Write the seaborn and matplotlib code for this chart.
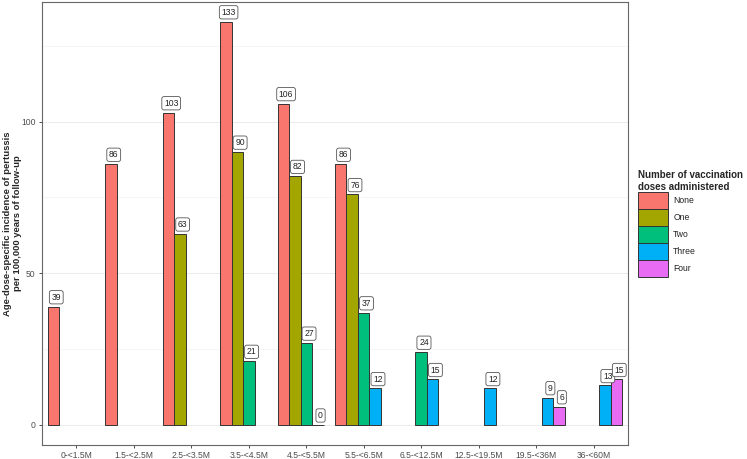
import numpy as np
import pandas as pd
import seaborn as sns
import matplotlib.pyplot as plt
from matplotlib.ticker import MultipleLocator

# data (NaN = no bar)
age_groups = ["0-<1.5M", "1.5-<2.5M", "2.5-<3.5M", "3.5-<4.5M", "4.5-<5.5M",
              "5.5-<6.5M", "6.5-<12.5M", "12.5-<19.5M", "19.5-<36M", "36-<60M"]
doses = ["None", "One", "Two", "Three", "Four"]
nan = np.nan
none_vals = [39, 86, 103, 133, 106, 86, nan, nan, nan, nan]
one_vals = [nan, nan, 63, 90, 82, 76, nan, nan, nan, nan]
two_vals = [nan, nan, nan, 21, 27, 37, 24, nan, nan, nan]
three_vals = [nan, nan, nan, nan, 0, 12, 15, 12, 9, 13]
four_vals = [nan, nan, nan, nan, nan, nan, nan, nan, 6, 15]
colors = ["#F8766D", "#A3A500", "#00BF7D", "#00B0F6", "#E76BF3"]

wide = pd.DataFrame({"age": age_groups, "None": none_vals, "One": one_vals,
                     "Two": two_vals, "Three": three_vals, "Four": four_vals})
df = wide.melt(id_vars="age", var_name="dose", value_name="rate").dropna()

sns.set_style("white")
plt.rcParams["font.family"] = ["Liberation Sans", "DejaVu Sans"]

fig = plt.figure(figsize=(7.47, 4.59), dpi=100)
ax = fig.add_axes([42 / 747, 14 / 459, 586 / 747, 443.5 / 459])

sns.barplot(data=df, x="age", y="rate", hue="dose", order=age_groups,
            hue_order=doses, palette=colors, width=1.0, edgecolor="#333333",
            linewidth=0.7, saturation=1, ax=ax)

# value labels in rounded boxes
for cont in ax.containers:
    for bar in cont:
        h = bar.get_height()
        if np.isnan(h):
            continue
        ax.annotate(f"{h:.0f}", (bar.get_x() + bar.get_width() / 2, h),
                    xytext=(2, 3.5), textcoords="offset points",
                    ha="center", va="bottom", fontsize=6.2, color="#222222",
                    bbox=dict(boxstyle="round,pad=0.25,rounding_size=0.25",
                              fc="white", ec="#555555", lw=0.6))

ax.set_xlim(-0.6, 9.6)
ax.set_ylim(-6.65, 139.65)
ax.yaxis.set_major_locator(MultipleLocator(50))
ax.yaxis.set_minor_locator(MultipleLocator(25))
ax.grid(axis="y", which="major", color="#EBEBEB", lw=0.7)
ax.grid(axis="y", which="minor", color="#F2F2F2", lw=0.5)
ax.set_axisbelow(True)
ax.tick_params(axis="both", which="major", labelsize=6.2, labelcolor="#4D4D4D",
               length=2.5, width=0.6, color="#333333", pad=2, bottom=True, left=True)
ax.tick_params(axis="y", which="minor", length=0)
for s in ax.spines.values():
    s.set_color("#666666")
    s.set_linewidth(0.8)

ax.set_xlabel("")
ax.set_ylabel("Age-dose-specific incidence of pertussis\nper 100,000 years of follow-up",
              fontsize=6.8, fontweight="bold", linespacing=1.1)
ax.yaxis.set_label_coords(-0.034, 0.5)

handles, labels = ax.get_legend_handles_labels()
leg = ax.legend(handles, labels, title="Number of vaccination\ndoses administered",
                loc="center left", bbox_to_anchor=(1.017, 0.5), frameon=False,
                fontsize=6.2, title_fontsize=7.0, handlelength=3.5, handleheight=2.66,
                labelspacing=0.0, handletextpad=0.6, borderpad=0, borderaxespad=0)
leg.get_title().set_fontweight("bold")
leg._legend_box.align = "left"
for t in leg.get_texts():
    t.set_color("#222222")

fig.savefig("out.png", dpi=100)
